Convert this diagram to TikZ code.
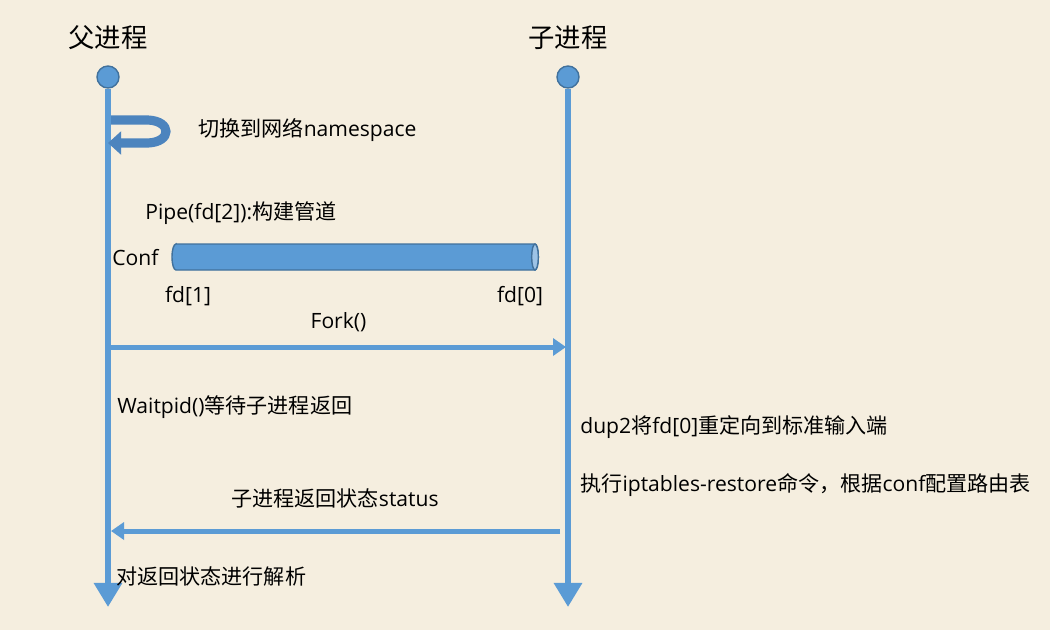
\documentclass[tikz,border=0pt]{standalone}
\usepackage{fontspec}
\setmainfont{Open Sans}
\newfontfamily\cjk{Noto Sans CJK SC}
\usepackage{xcolor}
\usepackage{tikz}
\usetikzlibrary{arrows.meta, positioning, calc}

\definecolor{bgpaper}{HTML}{F5EEDF}
\definecolor{lineblue}{HTML}{5B9BD5}
\definecolor{edgeblue}{HTML}{41719C}
\definecolor{capblue}{HTML}{9DC3E6}
\definecolor{loopblue}{HTML}{4C84BE}

\begin{document}
\begin{tikzpicture}[
    x=0.02cm, y=-0.02cm,
    lifehead/.style={circle, draw=edgeblue, line width=0.8pt, fill=lineblue, minimum size=22*0.569pt, inner sep=0pt},
    lifeline/.style={-{Triangle[length=13.7pt, width=15.4pt]}, line width=3.7pt, draw=lineblue},
    msg/.style={-{Triangle[length=7.4pt, width=9.7pt]}, line width=2.85pt, draw=lineblue},
    selfloop/.style={-{Triangle[length=7.5pt, width=13pt]}, line width=5.2pt, draw=loopblue},
    pipe/.style={fill=lineblue, draw=edgeblue, line width=0.8pt},
    title/.style={font=\cjk\fontsize{15}{18}\selectfont, inner sep=0pt},
    txt/.style={font=\fontsize{12}{14}\selectfont, inner sep=0pt, anchor=west},
    ctxt/.style={font=\fontsize{12}{14}\selectfont, inner sep=0pt}
]

% Background
\fill[bgpaper] (0,0) rectangle (1050,630);
\useasboundingbox (0,0) rectangle (1050,630);

% Process titles
\node[title] (ptitle) at (108, 38) {父进程};
\node[title] (ctitle) at (568, 38) {子进程};

% Lifelines
\node[lifehead] (parent) at (108, 77) {};
\node[lifehead] (child) at (568, 77) {};
\coordinate (parentend) at (108, 607);
\coordinate (childend) at (568, 607);
\draw[lifeline] (parent) -- (parentend);
\draw[lifeline] (child) -- (childend);

% Switch namespace
\coordinate (loopA) at (111, 120);
\coordinate (loopB) at (108, 143);
\draw[selfloop] (loopA) -- (148, 120) .. controls (172, 121) and (172, 142) .. (148, 143) -- (loopB);
\node[txt] (netns) at (198, 130) {{\cjk 切换到网络}namespace};

% Pipe
\node[txt] (pipetxt) at (145, 213) {Pipe(fd[2]):{\cjk 构建管道}};
\draw[pipe] (176, 244) -- (535, 244) arc[start angle=90, end angle=-90, x radius=1.9pt, y radius=7.4pt]
    -- (176, 270) arc[start angle=270, end angle=90, x radius=2.3pt, y radius=7.4pt] -- cycle;
\draw[pipe, fill=capblue] (535, 257) ellipse [x radius=1.9pt, y radius=7.4pt];
\node[txt] (conf) at (112, 258) {Conf};
\node[ctxt] (fdw) at (188, 296) {fd[1]};
\node[ctxt] (fdr) at (520, 296) {fd[0]};

% Fork
\coordinate (forkA) at (111, 347);
\coordinate (forkB) at (566, 347);
\draw[msg] (forkA) -- (forkB) node[ctxt, midway, above=7pt] (fork) {Fork()};

% Parent waits, child runs
\node[txt] (wait) at (117, 407) {Waitpid(){\cjk 等待子进程返回}};
\node[txt] (dup) at (580, 427) {dup2{\cjk 将}fd[0]{\cjk 重定向到标准输入端}};
\node[txt] (restore) at (580, 485) {{\cjk 执行}iptables-restore{\cjk 命令，根据}conf{\cjk 配置路由表}};

% Return status
\coordinate (retA) at (560, 531);
\coordinate (retB) at (111, 531);
\node[ctxt] (status) at (335, 498) {{\cjk 子进程返回状态}status};
\draw[msg] (retA) -- (retB);
\node[txt] (parse) at (116, 576) {\cjk 对返回状态进行解析};

\end{tikzpicture}
\end{document}
